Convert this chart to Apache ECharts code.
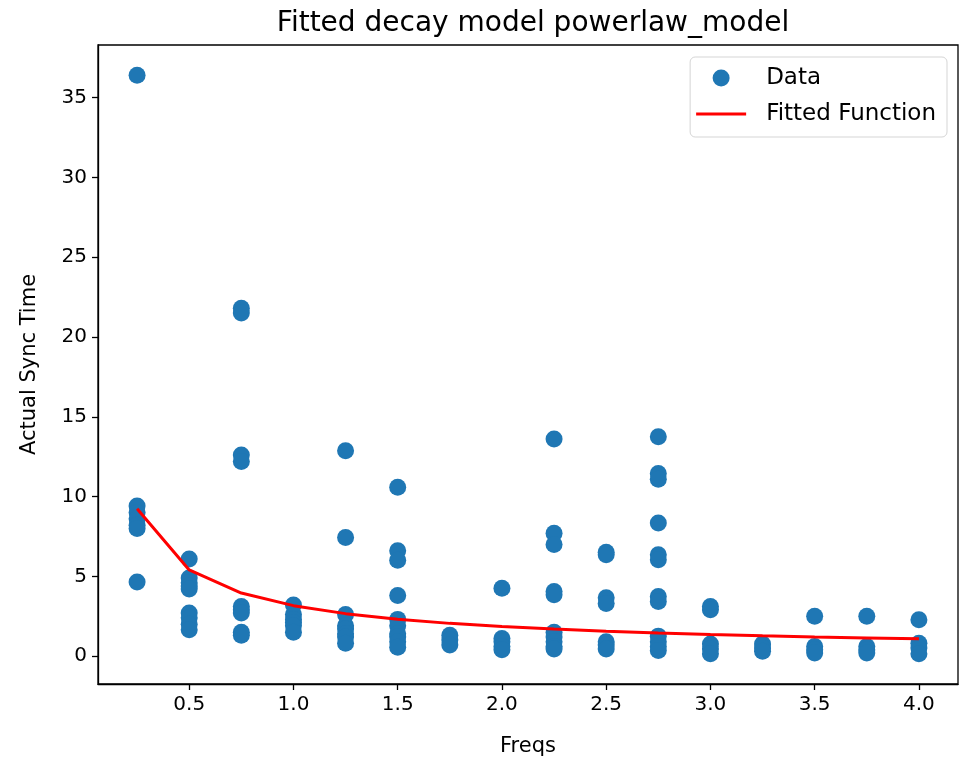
<!DOCTYPE html>
<html>
<head>
<meta charset="utf-8">
<script src="https://cdn.jsdelivr.net/npm/echarts@6/dist/echarts.min.js"></script>
<style>
html,body{margin:0;padding:0;background:#fff;}
#chart{width:960px;height:762px;}
</style>
</head>
<body>
<div id="chart"></div>
<script>
// Frequencies (x columns)
var freqs = [0.25, 0.5, 0.75, 1.0, 1.25, 1.5, 1.75, 2.0, 2.25, 2.5, 2.75, 3.0, 3.25, 3.5, 3.75, 4.0];
// Actual sync times observed at each frequency
var syncTimes = [
  [36.4, 9.4, 9.0, 8.6, 8.2, 8.0, 4.65],
  [6.08, 4.9, 4.6, 4.4, 4.2, 2.7, 2.4, 2.0, 1.65],
  [21.8, 21.5, 12.6, 12.2, 3.1, 2.9, 2.7, 1.5, 1.3],
  [3.2, 2.6, 2.3, 2.1, 1.9, 1.5],
  [12.87, 7.43, 2.6, 1.9, 1.7, 1.4, 1.2, 0.8],
  [10.58, 6.6, 6.0, 3.8, 2.3, 1.9, 1.4, 1.2, 0.9, 0.55],
  [1.3, 1.0, 0.7],
  [4.25, 1.1, 0.9, 0.6, 0.4],
  [13.6, 7.7, 7.0, 4.05, 3.85, 1.5, 1.2, 0.9, 0.6, 0.45],
  [6.5, 6.35, 3.65, 3.3, 0.9, 0.7, 0.45],
  [13.74, 11.45, 11.08, 8.34, 6.35, 6.04, 3.74, 3.42, 1.25, 0.9, 0.6, 0.35],
  [3.1, 2.9, 0.75, 0.45, 0.15],
  [0.75, 0.5, 0.3],
  [2.5, 0.6, 0.4, 0.2],
  [2.5, 0.6, 0.4, 0.2],
  [2.28, 0.8, 0.5, 0.15]
];
// Fitted power-law curve values at each frequency
var fitted = [9.23, 5.4, 3.95, 3.16, 2.66, 2.31, 2.05, 1.85, 1.69, 1.56, 1.45, 1.35, 1.27, 1.20, 1.14, 1.08];
// Tick labels
var xTicks = [0.5, 1.0, 1.5, 2.0, 2.5, 3.0, 3.5, 4.0];
var yTicks = [0, 5, 10, 15, 20, 25, 30, 35];

var scatterData = [];
freqs.forEach(function (f, i) {
  syncTimes[i].forEach(function (v) { scatterData.push([f, v]); });
});
var lineData = freqs.map(function (f, i) { return [f, fitted[i]]; });

var FONT = 'DejaVu Sans';
var chart = echarts.init(document.getElementById('chart'), null, {renderer: 'canvas'});
chart.setOption({
  animation: false,
  backgroundColor: '#ffffff',
  title: {
    text: 'Fitted decay model powerlaw_model',
    left: 528, top: 5, textAlign: 'center',
    textStyle: {fontFamily: FONT, fontSize: 28, fontWeight: 'normal', color: '#000'}
  },
  legend: {
    orient: 'vertical',
    right: 13, top: 57,
    padding: [8, 11, 10, 6],
    itemGap: 10,
    itemWidth: 50, itemHeight: 17,
    backgroundColor: '#fff',
    borderColor: '#d5d5d5', borderWidth: 1, borderRadius: 5,
    textStyle: {fontFamily: FONT, fontSize: 23, color: '#000', padding: [0, 0, 0, 15], lineHeight: 26},
    data: [
      {name: 'Data', icon: 'circle'},
      {name: 'Fitted Function', icon: 'path://M0,0 L50,0 L50,3 L0,3 Z', itemStyle: {color: '#ff0000'}}
    ]
  },
  grid: {
    left: 98, right: 2, top: 45, bottom: 74,
    show: true, borderColor: '#000', borderWidth: 1.3, backgroundColor: 'transparent'
  },
  xAxis: {
    type: 'value', min: 0.0625, max: 4.1875,
    name: 'Freqs', nameLocation: 'middle', nameGap: 52,
    nameTextStyle: {fontFamily: FONT, fontSize: 21, color: '#000'},
    splitLine: {show: false},
    axisLine: {show: true, onZero: false, lineStyle: {color: '#000', width: 1.3}},
    axisTick: {show: true, length: 6, lineStyle: {color: '#000', width: 1.3}, customValues: xTicks},
    axisLabel: {
      fontFamily: FONT, fontSize: 20, color: '#000', margin: 11,
      customValues: xTicks,
      formatter: function (v) { return v.toFixed(1); }
    }
  },
  yAxis: {
    type: 'value', min: -1.75, max: 38.3,
    name: 'Actual Sync Time', nameLocation: 'middle', nameGap: 58, nameRotate: 90,
    nameTextStyle: {fontFamily: FONT, fontSize: 21, color: '#000'},
    splitLine: {show: false},
    axisLine: {show: true, onZero: false, lineStyle: {color: '#000', width: 1.3}},
    axisTick: {show: true, length: 6, lineStyle: {color: '#000', width: 1.3}, customValues: yTicks},
    axisLabel: {
      fontFamily: FONT, fontSize: 20, color: '#000', margin: 11,
      customValues: yTicks,
      formatter: function (v) { return String(Math.round(v)); }
    }
  },
  series: [
    {
      name: 'Data', type: 'scatter', data: scatterData,
      symbol: 'circle', symbolSize: 17,
      itemStyle: {color: '#1f77b4', opacity: 1},
      z: 2
    },
    {
      name: 'Fitted Function', type: 'line', data: lineData,
      symbol: 'none', showSymbol: false,
      lineStyle: {color: '#ff0000', width: 3},
      itemStyle: {color: '#ff0000'},
      z: 3
    }
  ]
});
</script>
</body>
</html>
